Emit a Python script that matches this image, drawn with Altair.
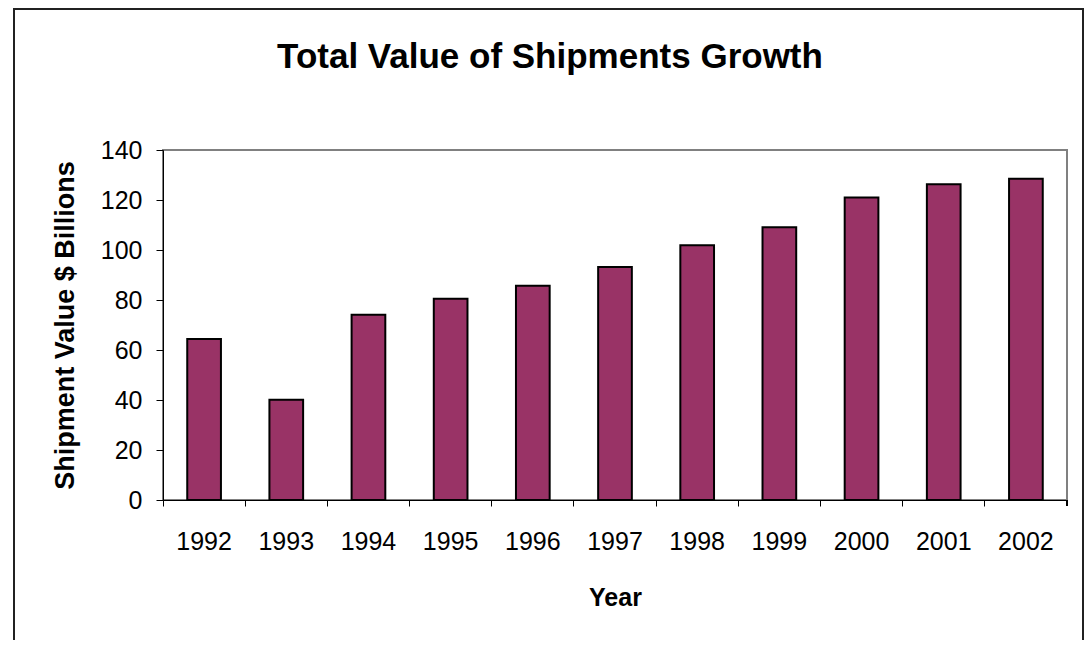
import altair as alt
import pandas as pd

years = ["1992", "1993", "1994", "1995", "1996", "1997", "1998", "1999", "2000", "2001", "2002"]
values = [64.4, 40.1, 74.1, 80.5, 85.7, 93.2, 101.9, 109.1, 121.0, 126.3, 128.5]
y_ticks = [0, 20, 40, 60, 80, 100, 120, 140]

df = pd.DataFrame({"Year": years, "Value": values})

W, H = 904, 350
FONT = "Liberation Sans"

bars = alt.Chart(df).mark_bar(
    width=alt.RelativeBandSize(0.41),
    color="#993366",
    stroke="black",
    strokeWidth=2,
).encode(
    x=alt.X(
        "Year:N",
        sort=years,
        scale=alt.Scale(paddingInner=0, paddingOuter=0),
        axis=alt.Axis(
            title="Year",
            labelAngle=0,
            bandPosition=0,
            labelFontSize=25,
            labelFont=FONT,
            labelColor="black",
            labelPadding=23,
            tickSize=6,
            tickColor="black",
            domainColor="black",
            titleFont=FONT,
            titleFontSize=25,
            titleFontWeight="bold",
            titleColor="black",
            titlePadding=31,
        ),
    ),
    y=alt.Y(
        "Value:Q",
        scale=alt.Scale(domain=[0, 140], nice=False),
        axis=alt.Axis(
            title="Shipment Value $ Billions",
            values=y_ticks,
            grid=False,
            labelFontSize=25,
            labelFont=FONT,
            labelColor="black",
            labelPadding=14,
            tickSize=7,
            tickColor="black",
            domainColor="black",
            titleFont=FONT,
            titleFontSize=27,
            titleFontWeight="bold",
            titleColor="black",
            titlePadding=21,
        ),
    ),
)

end_tick = alt.Chart(df).mark_rule(color="black", strokeWidth=1).encode(
    x=alt.value(W), y=alt.value(H), y2=alt.value(H + 6)
)

frame = alt.Chart(df).mark_rect(
    fill=None, stroke="#222222", strokeWidth=1.5, clip=False
).encode(
    x=alt.value(-149), x2=alt.value(920), y=alt.value(-141), y2=alt.value(510)
)

chart = alt.layer(frame, bars, end_tick).properties(
    width=W,
    height=H,
    title=alt.TitleParams(
        "Total Value of Shipments Growth",
        font=FONT,
        fontSize=35,
        fontWeight="bold",
        color="black",
        anchor="middle",
        dx=-65,
        offset=-67,
    ),
    autosize=alt.AutoSizeParams(type="none"),
    padding={"left": 155, "top": 142, "right": 17, "bottom": 140},
).configure(
    background="white",
    view=alt.ViewConfig(stroke="#808080", strokeWidth=2),
)

chart.save("out.html", embed_options={"renderer": "svg", "actions": False})
